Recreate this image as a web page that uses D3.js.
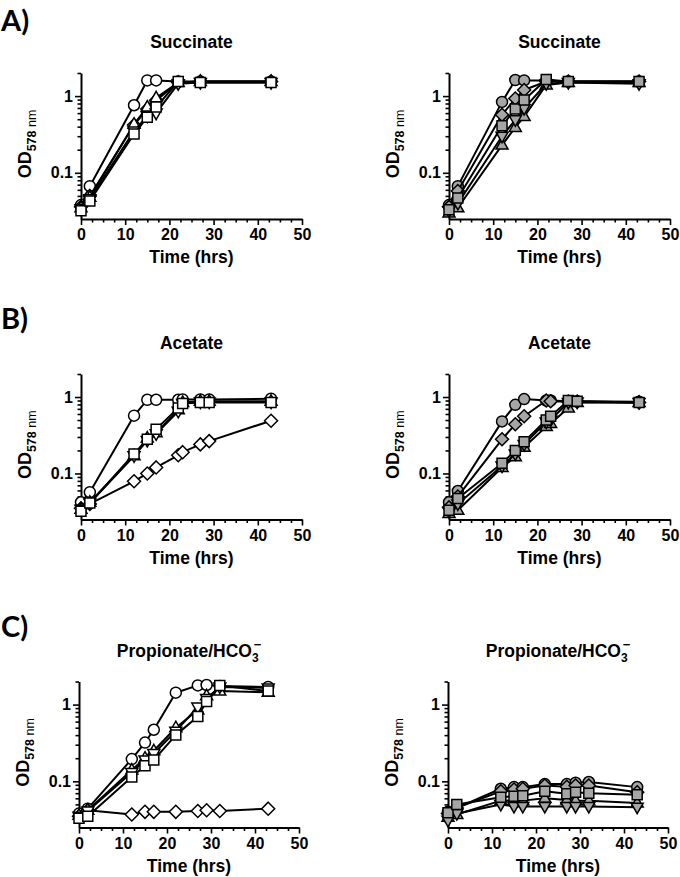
<!DOCTYPE html>
<html>
<head>
<meta charset="utf-8">
<script src="https://cdn.jsdelivr.net/npm/d3@7"></script>
<style>
  html, body { margin: 0; padding: 0; background: #fff; }
  svg { display: block; }
  text { font-family: "Liberation Sans", Arial, sans-serif; }
</style>
</head>
<body>
<script>
// ---------------- DATA ----------------
const timesSuccinate = [0, 2, 12, 15, 17, 22, 27, 43];
const timesAcetate = [0, 2, 12, 15, 17, 22, 23, 27, 29, 43];
const timesPropionate = [0, 2, 12, 15, 17, 22, 27, 29, 32, 43];

const seriesOrder = ["circle", "diamond", "triUp", "triDown", "square"];

// A) Succinate — open symbols
const sucOpenCircle  = [0.038, 0.067, 0.76, 1.6, 1.6, 1.55, 1.55, 1.55];
const sucOpenDiamond = [0.036, 0.050, 0.42, 0.68, 0.88, 1.5, 1.55, 1.55];
const sucOpenTriUp   = [0.035, 0.048, 0.43, 0.72, 0.95, 1.5, 1.55, 1.55];
const sucOpenTriDown = [0.034, 0.046, 0.35, 0.55, 0.60, 1.45, 1.5, 1.5];
const sucOpenSquare  = [0.032, 0.043, 0.32, 0.53, 0.72, 1.55, 1.5, 1.5];
// A) Succinate — grey symbols
const sucGreyCircle  = [0.038, 0.067, 0.84, 1.62, 1.6, 1.6, 1.55, 1.55];
const sucGreyDiamond = [0.036, 0.058, 0.57, 0.93, 1.2, 1.55, 1.55, 1.55];
const sucGreyTriUp   = [0.030, 0.035, 0.23, 0.39, 0.54, 1.4, 1.5, 1.5];
const sucGreyTriDown = [0.032, 0.040, 0.30, 0.49, 0.69, 1.45, 1.5, 1.45];
const sucGreySquare  = [0.033, 0.047, 0.41, 0.68, 0.89, 1.65, 1.55, 1.55];

// B) Acetate — open symbols
const aceOpenCircle  = [0.042, 0.057, 0.57, 0.92, 0.92, 0.92, 0.93, 0.93, 0.93, 0.95];
const aceOpenDiamond = [0.035, 0.040, 0.079, 0.10, 0.12, 0.173, 0.19, 0.24, 0.265, 0.49];
const aceOpenTriUp   = [0.034, 0.042, 0.17, 0.29, 0.34, 0.68, 0.85, 0.88, 0.88, 0.88];
const aceOpenTriDown = [0.034, 0.041, 0.17, 0.27, 0.33, 0.65, 0.82, 0.86, 0.86, 0.86];
const aceOpenSquare  = [0.032, 0.041, 0.18, 0.28, 0.38, 0.72, 0.82, 0.85, 0.85, 0.85];
// B) Acetate — grey symbols
const aceGreyCircle  = [0.042, 0.059, 0.48, 0.79, 0.94, 0.90, 0.90, 0.88, 0.88, 0.87];
const aceGreyDiamond = [0.036, 0.050, 0.28, 0.44, 0.56, 0.90, 0.88, 0.87, 0.87, 0.85];
const aceGreyTriUp   = [0.030, 0.033, 0.12, 0.165, 0.22, 0.41, 0.45, 0.72, 0.85, 0.85];
const aceGreyTriDown = [0.032, 0.040, 0.125, 0.18, 0.24, 0.47, 0.50, 0.85, 0.86, 0.85];
const aceGreySquare  = [0.033, 0.047, 0.136, 0.20, 0.26, 0.50, 0.56, 0.90, 0.88, 0.85];

// C) Propionate/HCO3- — open symbols
const proOpenCircle  = [0.038, 0.044, 0.195, 0.32, 0.47, 1.43, 1.78, 1.8, 1.75, 1.7];
const proOpenDiamond = [0.035, 0.042, 0.037, 0.040, 0.040, 0.040, 0.041, 0.042, 0.041, 0.044];
const proOpenTriUp   = [0.036, 0.042, 0.14, 0.20, 0.25, 0.50, 0.85, 1.3, 1.5, 1.45];
const proOpenTriDown = [0.035, 0.041, 0.13, 0.19, 0.23, 0.45, 0.93, 1.2, 1.7, 1.65];
const proOpenSquare  = [0.033, 0.035, 0.114, 0.16, 0.19, 0.40, 0.70, 1.1, 1.78, 1.5];
// C) Propionate/HCO3- — grey symbols
const proGreyCircle  = [0.040, 0.045, 0.080, 0.084, 0.084, 0.092, 0.092, 0.096, 0.098, 0.084];
const proGreyDiamond = [0.038, 0.045, 0.074, 0.078, 0.080, 0.088, 0.085, 0.088, 0.088, 0.072];
const proGreyTriUp   = [0.034, 0.037, 0.056, 0.056, 0.056, 0.060, 0.057, 0.056, 0.056, 0.052];
const proGreyTriDown = [0.031, 0.038, 0.050, 0.047, 0.047, 0.047, 0.047, 0.047, 0.047, 0.046];
const proGreySquare  = [0.039, 0.050, 0.062, 0.064, 0.065, 0.074, 0.069, 0.072, 0.070, 0.067];

const xMajorTicks = [0, 10, 20, 30, 40, 50];
const xMinorTicks = [2.5, 5, 7.5, 12.5, 15, 17.5, 22.5, 25, 27.5, 32.5, 35, 37.5, 42.5, 45, 47.5];
const yMajorTicks = [0.1, 1];
const yMinorTicks = [0.03, 0.04, 0.05, 0.06, 0.07, 0.08, 0.09, 0.2, 0.3, 0.4, 0.5, 0.6, 0.7, 0.8, 0.9, 2];
const yDomain = [0.025, 2];
const xDomain = [0, 50];

const panelLetters = ["A)", "B)", "C)"];
const titles = ["Succinate", "Acetate", "Propionate/HCO"];

// ---------------- LAYOUT ----------------
const rows = [
  { top: 73, bottom: 219 },
  { top: 374, bottom: 519.5 },
  { top: 681.5, bottom: 827.5 }
];
const cols = [
  [{ l: 81, r: 302 }, { l: 449, r: 670 }],
  [{ l: 81, r: 302 }, { l: 449, r: 670 }],
  [{ l: 79, r: 299 }, { l: 448, r: 668 }]
];

const panels = [
  { row: 0, col: 0, fill: "#fff", times: timesSuccinate,
    series: [sucOpenCircle, sucOpenDiamond, sucOpenTriUp, sucOpenTriDown, sucOpenSquare] },
  { row: 0, col: 1, fill: "#a6a6a6", times: timesSuccinate,
    series: [sucGreyCircle, sucGreyDiamond, sucGreyTriUp, sucGreyTriDown, sucGreySquare] },
  { row: 1, col: 0, fill: "#fff", times: timesAcetate,
    series: [aceOpenCircle, aceOpenDiamond, aceOpenTriUp, aceOpenTriDown, aceOpenSquare] },
  { row: 1, col: 1, fill: "#a6a6a6", times: timesAcetate,
    series: [aceGreyCircle, aceGreyDiamond, aceGreyTriUp, aceGreyTriDown, aceGreySquare] },
  { row: 2, col: 0, fill: "#fff", times: timesPropionate,
    series: [proOpenCircle, proOpenDiamond, proOpenTriUp, proOpenTriDown, proOpenSquare] },
  { row: 2, col: 1, fill: "#a6a6a6", times: timesPropionate,
    series: [proGreyCircle, proGreyDiamond, proGreyTriUp, proGreyTriDown, proGreySquare] }
];

const symbolPaths = {
  circle: "M5.5,0A5.5,5.5 0 1,1 -5.5,0A5.5,5.5 0 1,1 5.5,0Z",
  square: "M-5,-5H5V5H-5Z",
  diamond: "M0,-6.5L6.5,0L0,6.5L-6.5,0Z",
  triUp: "M0,-6.5L6,4L-6,4Z",
  triDown: "M0,6.5L6,-4L-6,-4Z"
};

const svg = d3.select("body").append("svg")
  .attr("width", 680).attr("height", 877);

// panel letters
rows.forEach((r, i) => {
  svg.append("text")
    .attr("x", 1).attr("y", Math.max(r.top - 45, 31))
    .style("font-family", "Lato, 'Liberation Sans', sans-serif")
    .style("font-weight", "bold").style("font-size", "29px")
    .text(panelLetters[i]);
});

panels.forEach(p => {
  const r = rows[p.row];
  const c = cols[p.row][p.col];
  const x = d3.scaleLinear().domain(xDomain).range([c.l, c.r]);
  const y = d3.scaleLog().domain(yDomain).range([r.bottom, r.top]);
  const g = svg.append("g");

  // title
  const t = g.append("text")
    .attr("x", (c.l + c.r) / 2).attr("y", r.top - 25)
    .attr("text-anchor", "middle")
    .style("font-weight", "bold").style("font-size", "17.5px");
  t.append("tspan").text(titles[p.row]);
  if (p.row === 2) {
    t.append("tspan").attr("dy", 5).style("font-size", "12px").text("3");
    t.append("tspan").attr("dx", -5).attr("dy", -13).style("font-size", "13px").text("\u2212");
  }

  // x axis
  const xMinor = g.append("g").attr("transform", `translate(0,${r.bottom})`)
    .call(d3.axisBottom(x).tickValues(xMinorTicks).tickSize(3.5).tickFormat(""));
  const xMajor = g.append("g").attr("transform", `translate(0,${r.bottom})`)
    .call(d3.axisBottom(x).tickValues(xMajorTicks).tickSize(6).tickSizeOuter(0).tickPadding(4));
  // y axis
  const yMinor = g.append("g").attr("transform", `translate(${c.l},0)`)
    .call(d3.axisLeft(y).tickValues(yMinorTicks).tickSize(3.5).tickFormat(""));
  const yMajor = g.append("g").attr("transform", `translate(${c.l},0)`)
    .call(d3.axisLeft(y).tickValues(yMajorTicks).tickSize(6).tickSizeOuter(0).tickPadding(2)
      .tickFormat(d => d === 1 ? "1" : "0.1"));

  [xMinor, yMinor].forEach(a => a.select(".domain").remove());
  [xMinor, xMajor, yMinor, yMajor].forEach(a => {
    a.selectAll(".tick line").attr("stroke", "#000").attr("stroke-width", 1.6);
    a.selectAll(".domain").attr("stroke", "#000").attr("stroke-width", 2);
    a.selectAll("text")
      .attr("fill", "#000")
      .style("font-family", "'Liberation Sans', Arial, sans-serif")
      .style("font-weight", "bold").style("font-size", "16px");
  });

  // axis labels
  g.append("text")
    .attr("x", (c.l + c.r) / 2).attr("y", r.bottom + 44)
    .attr("text-anchor", "middle")
    .style("font-weight", "bold").style("font-size", "17.5px")
    .text("Time (hrs)");

  const yl = g.append("text")
    .attr("transform", `translate(${c.l - 50},${(r.top + r.bottom) / 2 - 2}) rotate(-90)`)
    .attr("text-anchor", "middle");
  yl.append("tspan").style("font-weight", "bold").style("font-size", "18px").text("OD");
  yl.append("tspan").attr("dy", 5).style("font-weight", "bold").style("font-size", "12.5px").text("578");
  yl.append("tspan").style("font-size", "12.5px").text(" nm");

  // series
  const line = d3.line().x(d => x(d.t)).y(d => y(d.v));
  p.series.forEach((vals, si) => {
    const pts = p.times.map((t, i) => ({ t, v: vals[i] }));
    const sg = g.append("g");
    sg.append("path").datum(pts)
      .attr("d", line).attr("fill", "none")
      .attr("stroke", "#000").attr("stroke-width", 2).attr("stroke-linejoin", "round");
    sg.selectAll("path.m").data(pts).enter().append("path")
      .attr("class", "m")
      .attr("d", symbolPaths[seriesOrder[si]])
      .attr("transform", d => `translate(${x(d.t)},${y(d.v)})`)
      .attr("fill", p.fill).attr("stroke", "#000").attr("stroke-width", 1.5);
  });
});
</script>
</body>
</html>
